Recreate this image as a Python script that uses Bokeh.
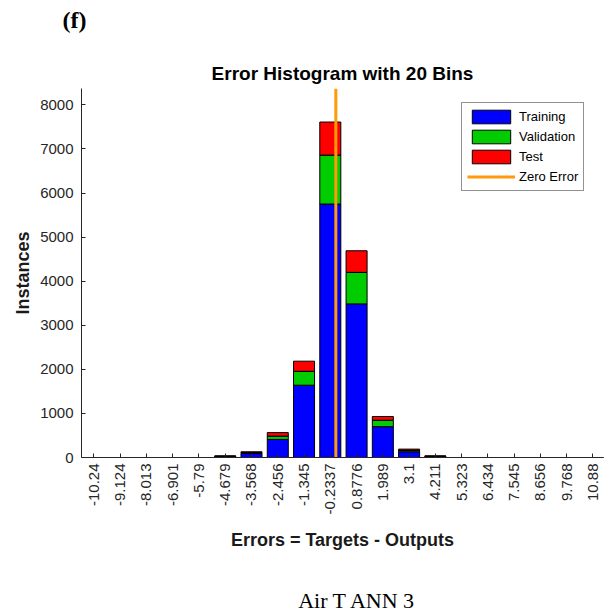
import math
from bokeh.plotting import figure
from bokeh.models import (ColumnDataSource, Range1d, FixedTicker, Legend, LegendItem, Title,
                          LinearAxis)
from bokeh.embed import file_html
from bokeh.resources import INLINE

# ---- data ----
tick_labels = ["-10.24", "-9.124", "-8.013", "-6.901", "-5.79", "-4.679", "-3.568",
               "-2.456", "-1.345", "-0.2337", "0.8776", "1.989", "3.1", "4.211",
               "5.323", "6.434", "7.545", "8.656", "9.768", "10.88"]
bin_centers = [float(s) for s in tick_labels]
training = [0, 0, 0, 0, 0, 25, 90, 410, 1640, 5750, 3485, 700, 130, 25, 0, 0, 0, 0, 0, 0]
validation = [0, 0, 0, 0, 0, 5, 20, 75, 315, 1110, 715, 145, 30, 5, 0, 0, 0, 0, 0, 0]
test = [0, 0, 0, 0, 0, 5, 20, 80, 230, 750, 490, 85, 30, 5, 0, 0, 0, 0, 0, 0]
y_ticks = [0, 1000, 2000, 3000, 4000, 5000, 6000, 7000, 8000]
series_names = ["Training", "Validation", "Test"]
series_colors = ["#0000FF", "#00CC00", "#FF0000"]
zero_color = "#FF9A0A"
caption_text = "Air T ANN 3"
caption_pos = 0.528   # fraction of the plot width

bin_w = (bin_centers[-1] - bin_centers[0]) / (len(bin_centers) - 1)
totals = [a + b + c for a, b, c in zip(training, validation, test)]
y_max = 1.1 * max(totals)

FONT = "Liberation Sans"
DARK = "#262626"

p = figure(width=605, height=615, output_backend="svg", toolbar_location=None, title=None,
           x_range=Range1d(bin_centers[0] - 0.468 * bin_w, bin_centers[-1] + 0.4 * bin_w),
           y_range=Range1d(0, y_max),
           min_border_left=81, min_border_right=2, min_border_top=88, min_border_bottom=157)
p.extra_x_ranges = {"caption": Range1d(0, 1)}
p.outline_line_color = None
p.grid.grid_line_color = None
p.background_fill_color = "white"
p.border_fill_color = "white"

source = ColumnDataSource(dict(x=bin_centers, train=training, val=validation, test=test))
bars = p.vbar_stack(["train", "val", "test"], x="x", width=0.8 * bin_w, source=source,
                    fill_color=series_colors, line_color="black", line_width=1)
zero_line = p.line(x=[0, 0], y=[0, y_max], line_color=zero_color, line_width=3)

# axes
p.xaxis.ticker = FixedTicker(ticks=bin_centers)
p.xaxis.major_label_overrides = {c: s for c, s in zip(bin_centers, tick_labels)}
p.xaxis.major_label_orientation = math.pi / 2
p.yaxis.ticker = FixedTicker(ticks=y_ticks)
for ax in (p.xaxis, p.yaxis):
    ax.axis_line_color = DARK
    ax.major_tick_line_color = DARK
    ax.major_tick_in = 4
    ax.major_tick_out = 0
    ax.minor_tick_line_color = None
    ax.major_label_text_font = FONT
    ax.major_label_text_font_size = "15px"
    ax.major_label_text_color = DARK
    ax.axis_label_text_font = FONT
    ax.axis_label_text_font_size = "18px"
    ax.axis_label_text_font_style = "bold"
    ax.axis_label_text_color = "#1a1a1a"
p.xaxis.major_label_standoff = 6
p.yaxis.major_label_standoff = 8
p.xaxis.axis_label = "Errors = Targets - Outputs"
p.yaxis.axis_label = "Instances"
p.xaxis.axis_label_standoff = 13
p.yaxis.axis_label_standoff = 4

legend = Legend(items=[LegendItem(label=series_names[0], renderers=[bars[0]]),
                       LegendItem(label=series_names[1], renderers=[bars[1]]),
                       LegendItem(label=series_names[2], renderers=[bars[2]]),
                       LegendItem(label="Zero Error", renderers=[zero_line])],
                location=(380, 266), glyph_width=48, glyph_height=17, label_height=17,
                spacing=3, padding=5, margin=0, label_standoff=4,
                label_text_font=FONT, label_text_font_size="13px", label_text_color="black",
                border_line_color=DARK, border_line_width=1, background_fill_color="white",
                background_fill_alpha=1.0)
p.add_layout(legend)

# caption below the x-axis label, drawn as the single tick label of a bare axis
cap_axis = LinearAxis(x_range_name="caption", ticker=FixedTicker(ticks=[caption_pos]),
                      major_label_overrides={caption_pos: caption_text},
                      axis_line_color=None, major_tick_line_color=None,
                      minor_tick_line_color=None, major_tick_in=0, major_tick_out=0,
                      major_label_standoff=34, major_label_text_font="Liberation Serif",
                      major_label_text_font_size="22px", major_label_text_color="black")
p.add_layout(cap_axis, "below")

# titles above the plot: main title, a blank spacer, then the panel letter
p.add_layout(Title(text="Error Histogram with 20 Bins", align="center", standoff=9,
                   text_font=FONT, text_font_size="19px", text_font_style="bold",
                   text_color="black"), "above")
spacer = LinearAxis(x_range_name="caption", ticker=FixedTicker(ticks=[0.5]),
                    major_label_overrides={0.5: ""},
                    axis_line_color=None, major_tick_line_color="white",
                    minor_tick_line_color=None, major_tick_in=0, major_tick_out=24,
                    major_label_standoff=0)
p.add_layout(spacer, "above")
p.add_layout(Title(text="(f)", align="left", offset=-19, standoff=0,
                   text_font="Liberation Serif", text_font_size="24px", text_font_style="bold",
                   text_color="black"), "above")

open("out.html", "w").write(file_html(p, INLINE))
